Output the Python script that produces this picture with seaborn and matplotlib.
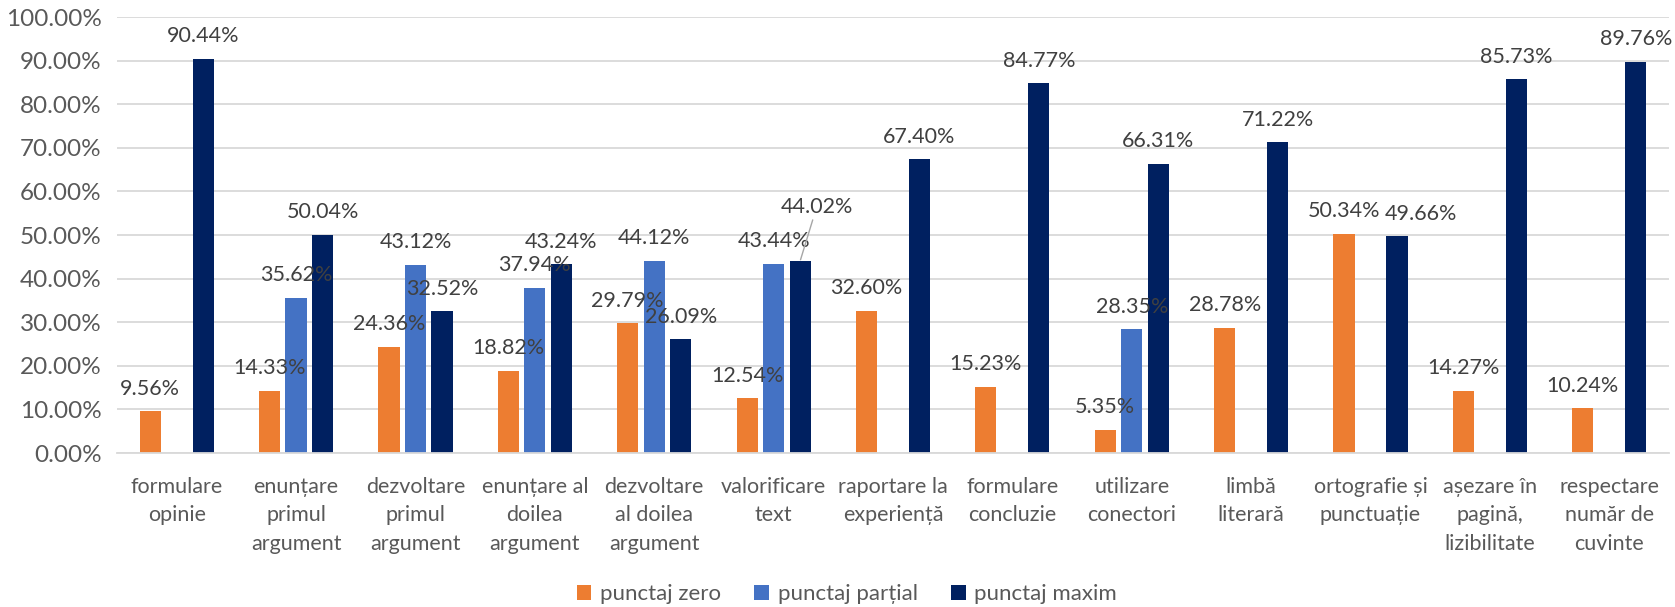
import numpy as np
import pandas as pd
import matplotlib
matplotlib.use("Agg")
import matplotlib.pyplot as plt
from matplotlib.ticker import FuncFormatter
import seaborn as sns

# ---------------------
# Data
# ---------------------
categories = [
    "formulare\nopinie",
    "enunțare\nprimul\nargument",
    "dezvoltare\nprimul\nargument",
    "enunțare al\ndoilea\nargument",
    "dezvoltare\nal doilea\nargument",
    "valorificare\ntext",
    "raportare la\nexperiență",
    "formulare\nconcluzie",
    "utilizare\nconectori",
    "limbă\nliterară",
    "ortografie și\npunctuație",
    "așezare în\npagină,\nlizibilitate",
    "respectare\nnumăr de\ncuvinte",
]
series = ["punctaj zero", "punctaj parțial", "punctaj maxim"]
zero = [9.56, 14.33, 24.36, 18.82, 29.79, 12.54, 32.60, 15.23, 5.35, 28.78, 50.34, 14.27, 10.24]
partial = [np.nan, 35.62, 43.12, 37.94, 44.12, 43.44, np.nan, np.nan, 28.35, np.nan, np.nan, np.nan, np.nan]
maxim = [90.44, 50.04, 32.52, 43.24, 26.09, 44.02, 67.40, 84.77, 66.31, 71.22, 49.66, 85.73, 89.76]

colors = ["#ED7D31", "#4472C4", "#002060"]

df = pd.DataFrame({"categorie": categories, series[0]: zero, series[1]: partial, series[2]: maxim})
long = df.melt(id_vars="categorie", var_name="serie", value_name="procent").dropna()

# ---------------------
# Plot
# ---------------------
sns.set_theme(style="white")
plt.rcParams["font.family"] = ["Lato", "DejaVu Sans"]
FS = 15.5

fig = plt.figure(figsize=(16.75, 6.07), dpi=100)
ax = fig.add_axes([117 / 1675, 1 - 453 / 607, (1669 - 117) / 1675, 436 / 607])

sns.barplot(data=long, x="categorie", y="procent", hue="serie",
            order=categories, hue_order=series, palette=colors, saturation=1,
            width=0.666, gap=0.2, linewidth=0, ax=ax, legend=True)

ax.set_ylim(0, 100)
ax.set_yticks(np.arange(0, 101, 10))
ax.yaxis.set_major_formatter(FuncFormatter(lambda v, p: f"{v:.2f}%"))
ax.grid(axis="y", color="#D9D9D9", linewidth=1.3)
ax.set_axisbelow(True)
for s in ["top", "right", "left"]:
    ax.spines[s].set_visible(False)
ax.spines["bottom"].set_color("#D9D9D9")
ax.spines["bottom"].set_linewidth(1.3)
ax.set_xlabel("")
ax.set_ylabel("")
ax.tick_params(axis="y", length=0, pad=11, labelsize=17.5, labelcolor="#595959")
ax.tick_params(axis="x", length=0, pad=17, labelsize=FS, labelcolor="#595959")
for lbl in ax.get_xticklabels():
    lbl.set_linespacing(1.55)
    lbl.set_verticalalignment("top")

# data labels (Excel nudged two of them sideways)
nudges = {(2, 44.02): (12, 32), (2, 49.66): (17, 9)}
for si, cont in enumerate(ax.containers):
    for bar in cont:
        h = bar.get_height()
        if np.isnan(h):
            continue
        x = bar.get_x() + bar.get_width() / 2
        txt = f"{h:.2f}%"
        off = nudges.get((si, round(h, 2)), (0, 9))
        arrow = None
        if off[1] > 20:
            arrow = dict(arrowstyle="-", color="#A6A6A6", lw=1, shrinkA=0, shrinkB=1)
        ax.annotate(txt, xy=(x, h), xytext=off, textcoords="offset points",
                    ha="center", va="bottom", fontsize=FS, color="#404040",
                    arrowprops=arrow)

# legend
handles, labels = ax.get_legend_handles_labels()
ax.get_legend().remove()
fig.legend(handles, labels, loc="center", bbox_to_anchor=(847 / 1675, 1 - 594 / 607),
           ncol=3, frameon=False, fontsize=16, labelcolor="#595959",
           handlelength=0.65, handleheight=0.65, handletextpad=0.4, columnspacing=1.5)

fig.savefig("out.png", dpi=100)
